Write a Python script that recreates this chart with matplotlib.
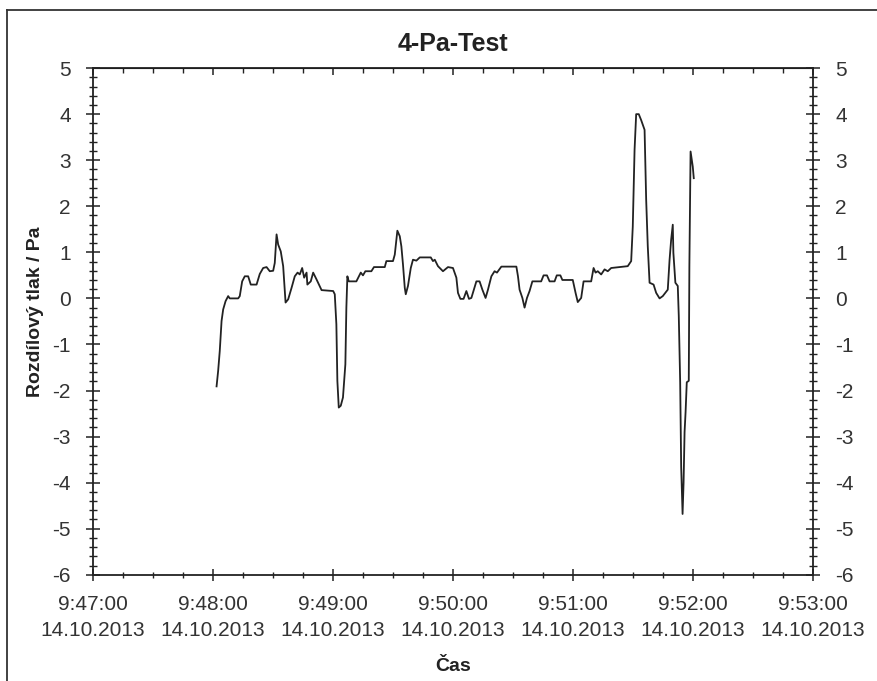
import matplotlib
matplotlib.use("Agg")
import matplotlib.pyplot as plt
import matplotlib.dates as mdates
from matplotlib.lines import Line2D
from matplotlib.ticker import MultipleLocator, NullFormatter
import pandas as pd

# seconds after 9:47:00
t_sec = [61.8, 62.6, 63.4, 64.3, 65.1, 66.3, 67.6, 68.4, 72.6, 73.4,
         74.6, 75.9, 77.6, 78.9, 81.8, 83.4, 85.1, 86.8, 88.4, 90.1,
         90.9, 91.8, 92.6, 93.9, 95.1, 96.3, 97.6, 99.3, 100.9, 102.3,
         103.4, 104.6, 105.6, 106.8, 107.2, 108.9, 110.1, 111.8, 114.3, 120.1,
         120.9, 121.7, 122.2, 122.9, 123.9, 125.0, 126.2, 126.7, 127.2, 127.9,
         131.7, 133.9, 135.0, 136.2, 139.2, 140.5, 145.9, 146.7, 150.0, 150.9,
         152.2, 153.4, 154.2, 155.0, 155.9, 156.4, 157.5, 158.9, 160.0, 161.7,
         163.4, 168.9, 170.0, 170.9, 172.5, 175.0, 177.5, 180.0, 181.7, 182.5,
         183.7, 185.3, 186.7, 188.0, 189.2, 191.7, 193.3, 194.7, 196.3, 197.5,
         199.2, 200.8, 202.0, 204.2, 211.7, 212.5, 213.3, 214.7, 215.8, 217.0,
         218.3, 219.7, 224.1, 225.3, 227.0, 228.3, 230.8, 231.9, 233.7, 234.7,
         239.9, 241.3, 242.4, 244.1, 245.3, 249.1, 250.3, 251.3, 252.4, 254.1,
         255.8, 257.4, 259.1, 267.4, 269.1, 269.9, 270.8, 271.6, 272.9, 274.1,
         275.8, 276.6, 277.4, 278.3, 280.3, 281.6, 283.3, 284.9, 287.4, 288.3,
         289.1, 289.9, 290.2, 291.2, 292.4, 292.9, 293.6, 294.1, 294.8, 295.3,
         295.8, 296.3, 296.9, 297.9, 298.2, 298.8, 299.4, 299.9, 300.4]

pressure = [-1.91, -1.57, -1.14, -0.49, -0.24, -0.06, 0.05, 0.0, 0.0, 0.05,
            0.37, 0.48, 0.48, 0.30, 0.30, 0.53, 0.66, 0.68, 0.59, 0.60,
            0.77, 1.39, 1.17, 1.02, 0.70, -0.09, -0.02, 0.23, 0.48, 0.56,
            0.52, 0.66, 0.45, 0.56, 0.30, 0.37, 0.56, 0.41, 0.18, 0.16,
            0.09, -0.56, -1.79, -2.37, -2.33, -2.15, -1.43, -0.20, 0.48, 0.37,
            0.37, 0.56, 0.50, 0.59, 0.59, 0.68, 0.68, 0.81, 0.81, 0.95,
            1.47, 1.35, 1.13, 0.74, 0.23, 0.09, 0.27, 0.66, 0.84, 0.82,
            0.89, 0.89, 0.81, 0.84, 0.70, 0.59, 0.68, 0.66, 0.45, 0.12,
            -0.01, -0.01, 0.16, -0.01, 0.01, 0.37, 0.37, 0.19, 0.01, 0.19,
            0.48, 0.59, 0.56, 0.69, 0.69, 0.48, 0.19, 0.01, -0.20, 0.01,
            0.16, 0.37, 0.37, 0.50, 0.50, 0.37, 0.37, 0.50, 0.50, 0.40,
            0.40, 0.12, -0.08, 0.01, 0.37, 0.37, 0.66, 0.56, 0.59, 0.52,
            0.63, 0.59, 0.66, 0.70, 0.81, 1.56, 3.23, 4.00, 4.00, 3.87,
            3.66, 2.14, 1.13, 0.34, 0.30, 0.12, 0.00, 0.05, 0.19, 0.84,
            1.28, 1.60, 0.99, 0.34, 0.27, -0.38, -1.82, -3.66, -4.68, -4.00,
            -2.90, -2.47, -1.82, -1.79, 0.70, 3.19, 3.01, 2.86, 2.61]

start = pd.Timestamp("2013-10-14 09:47:00")
end = pd.Timestamp("2013-10-14 09:53:00")
times = start + pd.to_timedelta(t_sec, unit="s")

plt.rcParams["font.family"] = ["Liberation Sans", "DejaVu Sans"]
plt.rcParams["axes.unicode_minus"] = False
txt = "#333333"
dark = "#222222"

fig = plt.figure(figsize=(8.77, 6.81), dpi=100)
ax = fig.add_axes([0.106, 0.156, 0.821, 0.744])

ax.plot(times, pressure, color=dark, linewidth=1.3)

ax.set_xlim(start, end)
ax.set_ylim(-6, 5)
ax.xaxis.set_major_locator(mdates.MinuteLocator())
ax.xaxis.set_minor_locator(mdates.SecondLocator(bysecond=[15, 30, 45]))
ax.xaxis.set_major_formatter(mdates.DateFormatter("%-H:%M:%S\n%d.%m.%Y"))
ax.yaxis.set_major_locator(MultipleLocator(1))
ax.yaxis.set_minor_locator(MultipleLocator(0.2))

for sp in ax.spines.values():
    sp.set_linewidth(1.3)
    sp.set_color(dark)

ax.tick_params(axis="y", which="both", direction="inout", left=True, right=True,
               labelleft=True, labelright=True, labelsize=15, labelcolor=txt,
               color=dark, pad=11)
ax.tick_params(axis="y", which="major", length=10, width=1.1)
ax.tick_params(axis="y", which="minor", length=6, width=1.0)
ax.tick_params(axis="x", which="both", direction="inout", top=False,
               labelsize=15, labelcolor=txt, color=dark, pad=10)
ax.tick_params(axis="x", which="major", length=9, width=1.1)
ax.tick_params(axis="x", which="minor", length=4, width=1.0)
for lab in ax.get_xticklabels():
    lab.set_horizontalalignment("center")
    lab.set_linespacing(1.45)

# top ticks point inward only
top = ax.secondary_xaxis("top")
top.xaxis.set_major_locator(mdates.MinuteLocator())
top.xaxis.set_minor_locator(mdates.SecondLocator(bysecond=[15, 30, 45]))
top.xaxis.set_major_formatter(NullFormatter())
top.tick_params(axis="x", which="major", direction="in", length=5, width=1.1,
                color=dark)
top.tick_params(axis="x", which="minor", direction="in", length=3.5, width=1.0,
                color=dark)

ax.set_title("4-Pa-Test", fontsize=18, fontweight="bold", color=dark, pad=12)
ax.set_xlabel("Čas", fontsize=14, fontweight="bold", color=dark)
ax.xaxis.set_label_coords(0.5, -0.165)
ax.set_ylabel("Rozdílový tlak / Pa", fontsize=14, fontweight="bold", color=dark)
ax.yaxis.set_label_coords(-0.068, 0.52)

# frame of the scanned page
fig.add_artist(Line2D([0.008, 0.008], [0.0, 0.985], color="#333333", linewidth=1.3))
fig.add_artist(Line2D([0.008, 1.0], [0.985, 0.985], color="#333333", linewidth=1.3))

fig.savefig("out.png", dpi=100)
